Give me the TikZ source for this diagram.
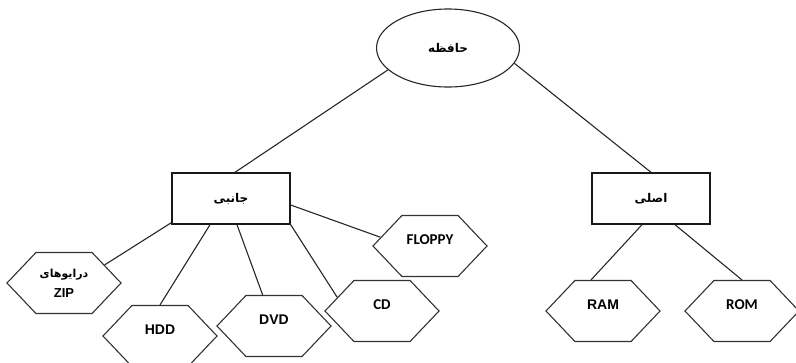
\documentclass[tikz,border=0pt]{standalone}
\usepackage{fontspec}
\usetikzlibrary{shapes.geometric,shapes.symbols,calc}
\TeXXeTstate=1
\newfontfamily\arabicfont[Script=Arabic]{DejaVu Sans}
\newfontfamily\arialfont{Liberation Sans}
\newfontfamily\calfont{Carlito}

\tikzset{
  conn/.style={draw=black!85, line width=1.1pt},
  topnode/.style={ellipse, draw=black!85, line width=1.1pt,
    minimum width=143pt, minimum height=78pt, inner sep=0pt,
    font=\arabicfont\bfseries\fontsize{12}{14}\selectfont},
  box/.style={rectangle, draw=black!90, line width=1.4pt,
    minimum width=118pt, minimum height=51pt, inner sep=0pt,
    font=\arabicfont\bfseries\fontsize{12}{14}\selectfont},
  hexa/.style={signal, signal to=west and east, signal pointer angle=93,
    draw=black!80, line width=1.1pt, minimum width=114pt,
    minimum height=61pt, inner sep=0pt},
  raised/.style={text depth=12pt},
  arialtxt/.style={font=\arialfont\bfseries\fontsize{14}{16}\selectfont},
  caltxt/.style={font=\calfont\bfseries\fontsize{15}{17}\selectfont},
}

\begin{document}
\begin{tikzpicture}[x=1pt, y=-1pt]
  \useasboundingbox (0,0) rectangle (796,362);

  % root and the two branches
  \node[topnode] (mem) at (448,48) {\beginR حافظه\endR};
  \node[box] (side) at (231,198.5) {\beginR جانبی\endR};
  \node[box] (main) at (651,198.5) {\beginR اصلی\endR};

  % secondary storage devices
  \node[hexa, arialtxt, align=center,
        font=\arialfont\bfseries\fontsize{13}{20}\selectfont] (zip) at (64,283)
        {{\arabicfont\fontsize{11}{20}\selectfont\beginR درایوهای\endR}\\ZIP};
  \node[hexa, arialtxt, raised] (hdd) at (160,336) {HDD};
  \node[hexa, arialtxt, raised] (dvd) at (274,326) {DVD};
  \node[hexa, caltxt, raised] (cd) at (382,311) {CD};
  \node[hexa, caltxt, raised] (floppy) at (430,246) {FLOPPY};

  % main memory
  \node[hexa, arialtxt, raised] (ram) at (603,311) {RAM};
  \node[hexa, caltxt, raised] (rom) at (742,311) {ROM};

  % connectors
  \draw[conn] (mem.200) -- ([xshift=4pt]side.north);
  \draw[conn] (mem.-13) -- (main.north);

  \draw[conn] ([yshift=2pt]side.south west) -- (zip.24);
  \draw[conn] ([xshift=-21pt]side.south) -- (hdd.north);
  \draw[conn] ([xshift=6pt]side.south) -- (dvd);
  \draw[conn] (side.south east) -- (cd.163);
  \draw[conn] ([yshift=-6.5pt]side.east) -- (floppy.170);

  \draw[conn] ([xshift=-9pt]main.south) -- ([xshift=-12pt]ram.north);
  \draw[conn] ([xshift=24pt]main.south) -- (rom.north);
\end{tikzpicture}
\end{document}
